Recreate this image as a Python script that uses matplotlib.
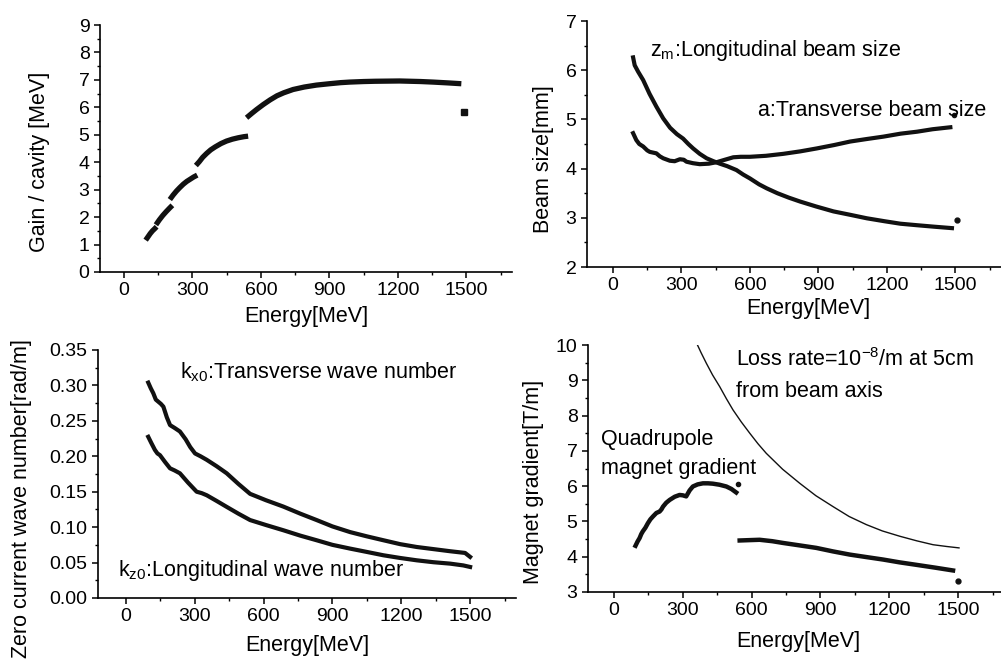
import matplotlib
matplotlib.use("Agg")
import matplotlib.pyplot as plt
from matplotlib.ticker import MultipleLocator

plt.rcParams['font.family'] = ['Liberation Sans', 'DejaVu Sans']
plt.rcParams['mathtext.fontset'] = 'custom'
plt.rcParams['mathtext.rm'] = 'Liberation Sans'
plt.rcParams['mathtext.it'] = 'Liberation Sans'

# ---- panel 1: gain per cavity, piecewise segments
gain_e = [[95, 105, 115, 125, 135, 143],
          [140, 155, 170, 185, 200, 212],
          [201, 215, 230, 245, 260, 275, 290, 305, 321],
          [315, 330, 345, 362, 380, 400, 425, 449, 475, 500, 525, 544],
          [537, 560, 581, 610, 640, 670, 700, 741, 790, 843, 900, 950, 989,
           1050, 1100, 1208, 1300, 1354, 1420, 1478]]
gain_v = [[1.16, 1.28, 1.40, 1.50, 1.58, 1.65],
          [1.72, 1.90, 2.06, 2.20, 2.33, 2.43],
          [2.64, 2.80, 2.95, 3.08, 3.20, 3.30, 3.38, 3.46, 3.53],
          [3.88, 4.02, 4.18, 4.32, 4.45, 4.56, 4.68, 4.77, 4.84, 4.89, 4.93, 4.95],
          [5.62, 5.78, 5.92, 6.10, 6.27, 6.42, 6.53, 6.65, 6.74, 6.81, 6.86, 6.90,
           6.92, 6.94, 6.95, 6.96, 6.94, 6.92, 6.89, 6.86]]
gain_last = (1488, 5.83)

# ---- panel 2: beam size
zm_e = [88, 95, 110, 132, 160, 190, 220, 250, 280, 307, 330, 351, 380, 410, 440,
        468, 500, 541, 570, 600, 640, 673, 720, 770, 820, 890, 966, 1040, 1112,
        1190, 1259, 1330, 1405, 1485]
zm_v = [6.26, 6.10, 5.97, 5.80, 5.52, 5.26, 5.02, 4.83, 4.70, 4.61, 4.50, 4.41,
        4.30, 4.21, 4.15, 4.10, 4.05, 3.97, 3.88, 3.80, 3.68, 3.60, 3.50, 3.41,
        3.33, 3.23, 3.13, 3.06, 2.99, 2.93, 2.88, 2.85, 2.82, 2.79]
zm_last = (1507, 2.95)
a_e = [88, 95, 102, 115, 132, 150, 161, 190, 205, 220, 249, 270, 293, 310, 322,
       350, 380, 420, 454, 490, 527, 560, 600, 670, 746, 820, 893, 970, 1039,
       1110, 1185, 1260, 1332, 1400, 1478]
a_v = [4.72, 4.65, 4.58, 4.50, 4.45, 4.37, 4.34, 4.31, 4.25, 4.21, 4.16, 4.15,
       4.19, 4.18, 4.14, 4.11, 4.09, 4.10, 4.13, 4.18, 4.23, 4.24, 4.24, 4.26,
       4.30, 4.35, 4.41, 4.48, 4.55, 4.60, 4.65, 4.71, 4.75, 4.80, 4.84]
a_last = (1496, 5.09)

# ---- panel 3: zero current wave numbers
kx_e = [97, 108, 119, 130, 141, 152, 163, 178, 192, 212, 235, 260, 280, 301, 325,
        352, 395, 439, 490, 541, 610, 686, 760, 831, 900, 977, 1050, 1122, 1195,
        1267, 1340, 1413, 1478, 1500]
kx_v = [0.304, 0.296, 0.289, 0.280, 0.277, 0.274, 0.270, 0.255, 0.244, 0.240,
        0.235, 0.224, 0.213, 0.204, 0.200, 0.195, 0.186, 0.176, 0.161, 0.147,
        0.138, 0.129, 0.119, 0.110, 0.101, 0.093, 0.087, 0.0815, 0.076, 0.072,
        0.069, 0.066, 0.0636, 0.058]
kz_e = [97, 110, 126, 137, 148, 170, 192, 212, 235, 270, 308, 330, 352, 395, 439,
        490, 541, 610, 686, 760, 831, 900, 977, 1050, 1122, 1195, 1267, 1340,
        1413, 1470, 1500]
kz_v = [0.2275, 0.219, 0.209, 0.204, 0.2016, 0.192, 0.183, 0.180, 0.176, 0.163,
        0.150, 0.148, 0.145, 0.137, 0.1286, 0.119, 0.110, 0.103, 0.0956, 0.088,
        0.0815, 0.075, 0.0697, 0.065, 0.0603, 0.0565, 0.0532, 0.0505, 0.0485,
        0.046, 0.0438]

# ---- panel 4: magnet gradient
q1_e = [94, 103, 112, 119, 126, 137, 148, 159, 170, 185, 199, 207, 214, 228, 243,
        265, 286, 300, 315, 330, 344, 365, 388, 410, 431, 460, 490, 512, 533]
q1_v = [4.31, 4.43, 4.53, 4.64, 4.72, 4.82, 4.95, 5.06, 5.14, 5.24, 5.28, 5.34,
        5.42, 5.53, 5.61, 5.70, 5.75, 5.74, 5.71, 5.88, 5.99, 6.05, 6.08, 6.08,
        6.07, 6.04, 5.99, 5.92, 5.82]
q1_last = (541, 6.06)
q2_e = [548, 590, 635, 690, 737, 810, 882, 955, 1028, 1100, 1173, 1245, 1318,
        1400, 1478]
q2_v = [4.46, 4.47, 4.48, 4.44, 4.39, 4.32, 4.25, 4.15, 4.06, 3.99, 3.92, 3.84,
        3.77, 3.69, 3.61]
q2_last = (1500, 3.30)
loss_e = [362, 380, 403, 430, 461, 490, 519, 555, 592, 628, 664, 735, 810, 880,
          955, 1025, 1100, 1170, 1246, 1320, 1391, 1450, 1504]
loss_v = [10.03, 9.78, 9.48, 9.15, 8.82, 8.48, 8.16, 7.82, 7.50, 7.20, 6.93, 6.48,
          6.08, 5.73, 5.42, 5.14, 4.91, 4.73, 4.58, 4.45, 4.34, 4.29, 4.25]

W, H = 1001, 660
fig = plt.figure(figsize=(W / 100, H / 100), dpi=100)


def make_ax(l, r, b, t):
    ax = fig.add_axes([l / W, 1 - b / H, (r - l) / W, (b - t) / H])
    ax.spines['top'].set_visible(False)
    ax.spines['right'].set_visible(False)
    ax.spines['left'].set_linewidth(1.2)
    ax.spines['bottom'].set_linewidth(1.2)
    ax.tick_params(which='major', direction='out', length=4, width=1.1, labelsize=14)
    ax.tick_params(which='minor', direction='out', length=2.5, width=1.0)
    ax.set_xticks([0, 300, 600, 900, 1200, 1500])
    ax.xaxis.set_minor_locator(MultipleLocator(150))
    ax.set_xlabel('Energy[MeV]', fontsize=15.5)
    ax.xaxis.label.set_va('center')
    ax.yaxis.label.set_va('center')
    return ax


col = '#111111'
fs = 15.5

# panel 1
ax1 = make_ax(100, 512, 272, 25)
for e, v in zip(gain_e, gain_v):
    ax1.plot(e, v, color=col, lw=3.8, solid_capstyle='butt')
ax1.plot(*gain_last, 's', color=col, ms=4)
ax1.set_xlim(-105, 1700)
ax1.set_ylim(0, 9)
ax1.yaxis.set_major_locator(MultipleLocator(1))
ax1.yaxis.set_minor_locator(MultipleLocator(0.5))
ax1.set_ylabel('Gain / cavity [MeV]', fontsize=15.5)
ax1.yaxis.set_label_coords(-0.146, 0.445)
ax1.xaxis.set_label_coords(0.5, -0.18)

# panel 2
ax2 = make_ax(587, 1001, 267, 21)
ax2.plot(zm_e, zm_v, color=col, lw=3.0)
ax2.plot(*zm_last, 'o', color=col, ms=3.5)
ax2.plot(a_e, a_v, color=col, lw=3.0)
ax2.plot(*a_last, 'o', color=col, ms=3)
ax2.set_xlim(-114, 1700)
ax2.set_ylim(2, 7)
ax2.yaxis.set_major_locator(MultipleLocator(1))
ax2.yaxis.set_minor_locator(MultipleLocator(0.5))
ax2.set_ylabel('Beam size[mm]', fontsize=15.5)
ax2.yaxis.set_label_coords(-0.106, 0.44)
ax2.xaxis.set_label_coords(0.534, -0.167)
ax2.text(161, 6.40, r'z$_\mathrm{m}$:Longitudinal beam size', fontsize=fs, va='center')
ax2.text(637, 5.19, 'a:Transverse beam size', fontsize=fs, va='center')

# panel 3
ax3 = make_ax(98, 516, 598, 350)
ax3.plot(kx_e, kx_v, color=col, lw=3.0)
ax3.plot(kz_e, kz_v, color=col, lw=3.0)
ax3.set_xlim(-122, 1700)
ax3.set_ylim(0, 0.35)
ax3.yaxis.set_major_locator(MultipleLocator(0.05))
ax3.yaxis.set_minor_locator(MultipleLocator(0.025))
ax3.yaxis.set_major_formatter(plt.FormatStrFormatter('%.2f'))
ax3.set_ylabel('Zero current wave number[rad/m]', fontsize=15.5)
ax3.yaxis.set_label_coords(-0.182, 0.40)
ax3.xaxis.set_label_coords(0.5, -0.19)
ax3.text(235, 0.319, r'k$_\mathrm{x0}$:Transverse wave number', fontsize=fs, va='center')
ax3.text(-33, 0.039, r'k$_\mathrm{z0}$:Longitudinal wave number', fontsize=fs, va='center')

# panel 4
ax4 = make_ax(588, 1001, 592, 345)
ax4.plot(q1_e, q1_v, color=col, lw=3.2)
ax4.plot(*q1_last, 'o', color=col, ms=3)
ax4.plot(q2_e, q2_v, color=col, lw=3.2)
ax4.plot(*q2_last, 'o', color=col, ms=3.5)
ax4.plot(loss_e, loss_v, color=col, lw=1.0)
ax4.set_xlim(-113, 1687)
ax4.set_ylim(3, 10)
ax4.yaxis.set_major_locator(MultipleLocator(1))
ax4.yaxis.set_minor_locator(MultipleLocator(0.5))
ax4.set_ylabel('Magnet gradient[T/m]', fontsize=15.5)
ax4.yaxis.set_label_coords(-0.133, 0.445)
ax4.xaxis.set_label_coords(0.51, -0.2)
ax4.text(530, 9.58, r'Loss rate=10$^\mathrm{-8}$/m at 5cm', fontsize=fs, va='center')
ax4.text(530, 8.68, 'from beam axis', fontsize=fs, va='center')
ax4.text(-55, 7.31, 'Quadrupole', fontsize=fs, va='center')
ax4.text(-55, 6.51, 'magnet gradient', fontsize=fs, va='center')

fig.savefig('out.png', dpi=100)
